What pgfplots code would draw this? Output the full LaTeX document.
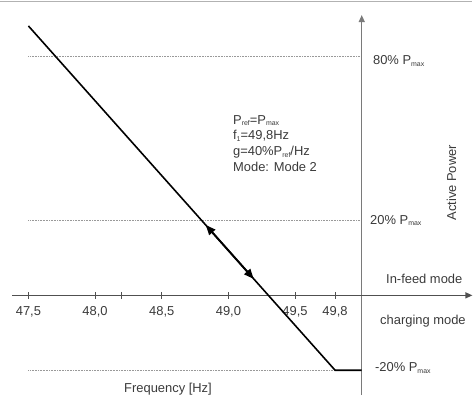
\documentclass[border=0pt]{standalone}
\usepackage{fontspec}
\setmainfont{Liberation Sans}
\usepackage{pgfplots}
\pgfplotsset{compat=1.18}
\usetikzlibrary{arrows.meta}
\definecolor{txt}{HTML}{3A3A3A}
\definecolor{axgray}{HTML}{7A7A7A}
\definecolor{haxis}{HTML}{505050}
\newcommand{\sub}[1]{\raisebox{-0.25ex}{\fontsize{7}{7}\selectfont #1}}
\begin{document}
\begin{tikzpicture}
\begin{axis}[
 width=473bp, height=396bp, scale only axis, hide axis, clip=false,
 xmin=47.29, xmax=50.830, ymin=-26.67, ymax=78.93,
 font=\fontsize{13}{16}\selectfont,
]
\path (rel axis cs:0,0) rectangle (rel axis cs:1,1);
% top border
\draw[gray!60, line width=0.8pt] (rel axis cs:0,0.997) -- (rel axis cs:1,0.997);
% dotted reference lines
\addplot[gray!80, densely dotted, line width=0.6pt] coordinates {(47.5,64) (50,64)};
\addplot[gray!80, densely dotted, line width=0.6pt] coordinates {(47.5,20) (50,20)};
\addplot[gray!80, densely dotted, line width=0.6pt] coordinates {(47.5,-20) (50,-20)};
% axes
\draw[axgray, line width=1.3pt, -{Triangle[length=7pt,width=6pt]}] (axis cs:50,-26.67) -- (axis cs:50,74.9);
\draw[haxis, line width=1.2pt, -{Triangle[length=7pt,width=6pt]}] (axis cs:47.38,0) -- (axis cs:50.83,0);
\pgfplotsinvokeforeach{47.5,48.0,48.2,48.5,49.0,49.5,49.8}{
  \draw[haxis, line width=1pt] (axis cs:#1,-0.9) -- (axis cs:#1,0.9);
}
% tick labels
\node[txt] at (axis cs:47.5,-4.5) {47,5};
\node[txt] at (axis cs:48.0,-4.5) {48,0};
\node[txt] at (axis cs:48.5,-4.5) {48,5};
\node[txt] at (axis cs:49.0,-4.5) {49,0};
\node[txt] at (axis cs:49.5,-4.5) {49,5};
\node[txt] at (axis cs:49.8,-4.5) {49,8};
% characteristic
\addplot[black, line width=1.6pt] coordinates {(47.5,72) (49.8,-20) (50,-20)};
\addplot[black, line width=1.9pt, -{Triangle[length=10pt,width=8pt]}] coordinates {(49.0,12) (48.83,18.8)};
\addplot[black, line width=1.9pt, -{Triangle[length=10pt,width=8pt]}] coordinates {(49.0,12) (49.19,4.4)};
% labels
\node[txt, anchor=west] at (axis cs:50.059,62.7) {80\% P\sub{max}};
\node[txt, anchor=west] at (axis cs:50.037,20) {20\% P\sub{max}};
\node[txt, anchor=west] at (axis cs:50.074,-19.5) {-20\% P\sub{max}};
\node[txt, anchor=west] at (axis cs:50.157,4.5) {In-feed mode};
\node[txt, anchor=west] at (axis cs:50.112,-6.9) {charging mode};
\node[txt] at (axis cs:48.547,-25.1) {Frequency [Hz]};
\node[txt, rotate=90] at (axis cs:50.673,30.1) {Active Power};
\node[txt, anchor=north west, align=left, inner sep=0pt] at (axis cs:49.034,48.2)
  {P\sub{ref}=P\sub{max}\\
   f\sub{1}=49,8Hz\\
   g=40\%P\sub{ref}/Hz\\
   Mode: Mode 2};
\end{axis}
\end{tikzpicture}
\end{document}
